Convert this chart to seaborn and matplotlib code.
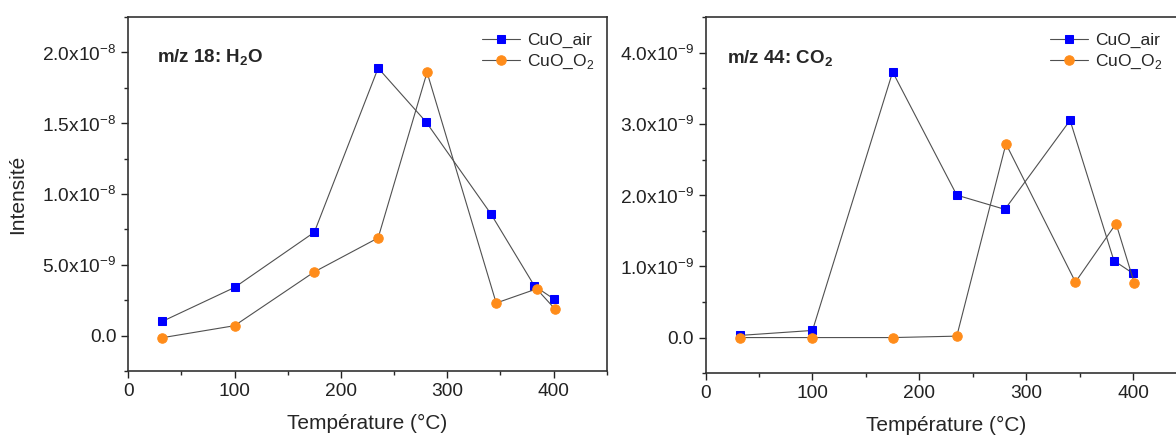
import numpy as np
import pandas as pd
import matplotlib
matplotlib.use("Agg")
import matplotlib.pyplot as plt
from matplotlib.ticker import MultipleLocator, FuncFormatter
import seaborn as sns

# data
temp_air = [32, 100, 175, 235, 280, 341, 382, 400]
temp_o2 = [32, 100, 175, 235, 281, 346, 384, 401]

h2o_air = [1.0e-9, 3.4e-9, 7.3e-9, 1.89e-8, 1.51e-8, 8.6e-9, 3.5e-9, 2.6e-9]
h2o_o2 = [-1.5e-10, 7.0e-10, 4.5e-9, 6.9e-9, 1.86e-8, 2.3e-9, 3.3e-9, 1.9e-9]

co2_air = [3.0e-11, 1.0e-10, 3.73e-9, 2.0e-9, 1.8e-9, 3.05e-9, 1.08e-9, 0.9e-9]
co2_o2 = [0.0, 0.0, 0.0, 2.0e-11, 2.72e-9, 7.8e-10, 1.6e-9, 7.7e-10]

series_names = ["CuO_air", "CuO_O$_2$"]
panel_titles = [r"m/z 18: H$_\mathbf{2}$O", r"m/z 44: CO$_\mathbf{2}$"]

sns.set_style("ticks")
plt.rcParams['font.family'] = ['Liberation Sans', 'DejaVu Sans']
plt.rcParams['mathtext.fontset'] = 'custom'
plt.rcParams['mathtext.rm'] = 'Liberation Sans'
plt.rcParams['mathtext.bf'] = 'Liberation Sans:bold'

fig = plt.figure(figsize=(11.76, 4.38), dpi=100)
ax1 = fig.add_axes([0.109, 0.153, 0.407, 0.808])
ax2 = fig.add_axes([0.600, 0.148, 0.409, 0.813])

line_col = "#505050"
blue = "#0000ff"
orange = "#ff8c1a"


def sci(v, pos):
    if abs(v) < 1e-20:
        return "0.0"
    e = int(np.floor(np.log10(abs(v)) + 1e-9))
    return r"%.1fx10$^{%d}$" % (v / 10.0**e, e)


def draw(ax, y_air, y_o2, title, tx, ymin, ymax, ystep, legx):
    sns.lineplot(x=temp_air, y=y_air, ax=ax, color=line_col, lw=0.8,
                 marker="s", markersize=6, markerfacecolor=blue,
                 markeredgecolor=blue, label=series_names[0])
    sns.lineplot(x=temp_o2, y=y_o2, ax=ax, color=line_col, lw=0.8,
                 marker="o", markersize=6.8, markerfacecolor=orange,
                 markeredgecolor=orange, label=series_names[1])
    ax.set_xlim(0, 450)
    ax.set_ylim(ymin, ymax)
    ax.xaxis.set_major_locator(MultipleLocator(100))
    ax.xaxis.set_minor_locator(MultipleLocator(50))
    ax.yaxis.set_major_locator(MultipleLocator(ystep))
    ax.yaxis.set_minor_locator(MultipleLocator(ystep / 2))
    ax.yaxis.set_major_formatter(FuncFormatter(sci))
    ax.yaxis.get_offset_text().set_visible(False)
    ax.tick_params(which="major", direction="out", length=5, width=1,
                   labelsize=13.8, colors="#222222")
    ax.tick_params(which="minor", direction="out", length=3, width=1)
    for s in ax.spines.values():
        s.set_linewidth(1.2)
        s.set_color("#333333")
    ax.text(tx, 0.884, title, transform=ax.transAxes, fontsize=13.5,
            fontweight="bold", va="center", ha="left")
    ax.legend(loc="upper left", frameon=False, fontsize=12.5,
              handlelength=2.2, handletextpad=0.4, labelspacing=0.25,
              borderpad=0, borderaxespad=0, bbox_to_anchor=(legx, 0.955))


draw(ax1, h2o_air, h2o_o2, panel_titles[0], 0.06, -2.5e-9, 2.25e-8, 0.5e-8, 0.739)
draw(ax2, co2_air, co2_o2, panel_titles[1], 0.044, -0.5e-9, 4.5e-9, 1.0e-9, 0.715)

ax1.set_xlabel("Température (°C)", fontsize=15, labelpad=10)
ax1.set_ylabel("Intensité", fontsize=15, labelpad=11)
ax2.set_xlabel("Température (°C)", fontsize=15, labelpad=10)

fig.savefig("out.png", dpi=100)
